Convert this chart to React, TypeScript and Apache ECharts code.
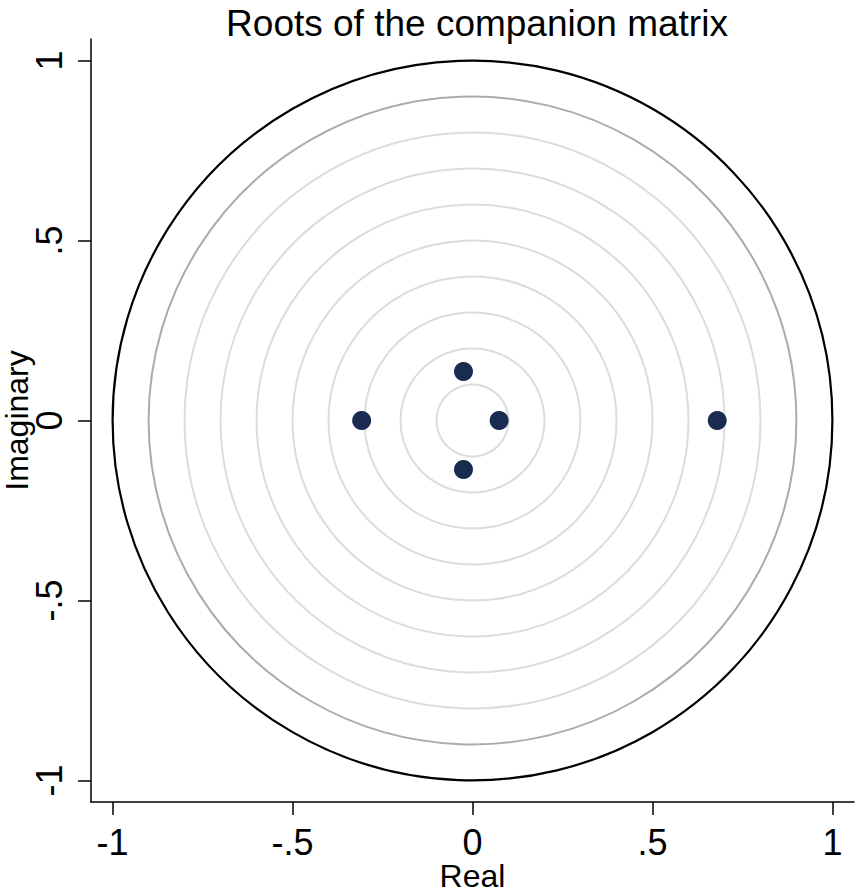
import React, { useEffect, useRef } from "react";
import * as echarts from "echarts";

const titleText = "Roots of the companion matrix";
const xAxisTitle = "Real";
const yAxisTitle = "Imaginary";

const tickValues = [-1, -0.5, 0, 0.5, 1];
const tickLabels = ["-1", "-.5", "0", ".5", "1"];

const circleRadii = [0.1, 0.2, 0.3, 0.4, 0.5, 0.6, 0.7, 0.8, 0.9, 1.0];

const realParts = [-0.308, 0.074, -0.025, -0.025, 0.68];
const imagParts = [0, 0, 0.136, -0.136, 0];

const FONT = "'Liberation Sans', Arial, sans-serif";

export default function App() {
  const ref = useRef<HTMLDivElement>(null);

  useEffect(() => {
    document.body.style.margin = "0";
    if (!ref.current) return;
    const chart = echarts.init(ref.current, undefined, { renderer: "svg" });

    const fmt = (v: number) => {
      const i = tickValues.findIndex((t) => Math.abs(t - v) < 1e-9);
      return i >= 0 ? tickLabels[i] : "";
    };

    const axisCommon = (rotate: number, margin: number) => ({
      type: "value" as const,
      min: -1.06,
      max: 1.06,
      axisLine: { show: true, onZero: false, lineStyle: { color: "#000", width: 1.5 } },
      axisTick: {
        show: true,
        inside: false,
        length: 13,
        customValues: tickValues,
        lineStyle: { color: "#000", width: 1.5 },
      },
      axisLabel: {
        show: true,
        customValues: tickValues,
        formatter: fmt,
        rotate,
        margin,
        color: "#000",
        fontSize: 36,
        lineHeight: 30,
        fontFamily: FONT,
      },
      splitLine: { show: false },
      nameLocation: "middle" as const,
      nameMoveOverlap: false,
      nameTextStyle: { color: "#000", fontSize: 32, fontFamily: FONT },
    });

    chart.setOption({
      animation: false,
      backgroundColor: "#fff",
      title: {
        text: titleText,
        left: 472,
        top: 0,
        textAlign: "center",
        textStyle: { color: "#000", fontSize: 37, fontWeight: "normal", fontFamily: FONT },
      },
      grid: { left: 91, top: 39, width: 763, height: 763, outerBoundsMode: "none", containLabel: false },
      xAxis: { ...axisCommon(0, 25), name: xAxisTitle, nameGap: 58 },
      yAxis: { ...axisCommon(90, 27), name: yAxisTitle, nameGap: 58, nameRotate: 90 },
      series: [
        {
          type: "custom",
          coordinateSystem: "cartesian2d",
          silent: true,
          z: 1,
          data: circleRadii.map((r) => [0, 0, r]),
          renderItem: (params: any, api: any) => {
            const r = api.value(2);
            const c = api.coord([api.value(0), api.value(1)]);
            const s = api.size([r, r]);
            let stroke = "#dcdcdc";
            let lw = 2;
            if (Math.abs(r - 1) < 1e-9) {
              stroke = "#000";
              lw = 2.2;
            } else if (Math.abs(r - 0.9) < 1e-9) {
              stroke = "#ababab";
              lw = 2;
            }
            return {
              type: "circle",
              shape: { cx: c[0], cy: c[1], r: s[0] },
              style: { fill: "none", stroke, lineWidth: lw },
            };
          },
        },
        {
          type: "scatter",
          z: 3,
          symbol: "circle",
          symbolSize: 19,
          itemStyle: { color: "#1a2b52", opacity: 1 },
          data: realParts.map((re, i) => [re, imagParts[i]]),
        },
      ],
    });

    return () => chart.dispose();
  }, []);

  return <div ref={ref} style={{ width: 862, height: 895 }} />;
}
